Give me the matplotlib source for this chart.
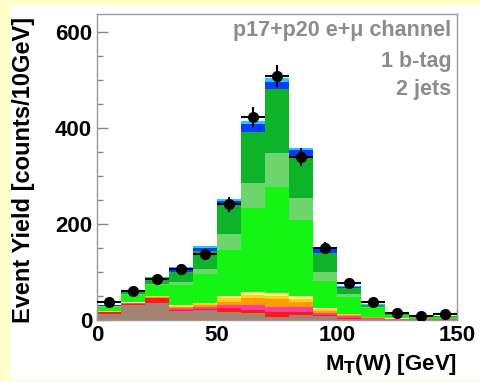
import numpy as np
import matplotlib
matplotlib.use("Agg")
import matplotlib.pyplot as plt
from matplotlib.patches import Rectangle

# Bin lower edges of M_T(W) in GeV (10 GeV bins)
bin_edges = [0, 10, 20, 30, 40, 50, 60, 70, 80, 90, 100, 110, 120, 130, 140]

# Stacked background/signal components, bottom to top (events per bin)
brown   = [13, 31, 36, 19, 20, 17, 14, 7, 10, 8, 3, 1.5, 0.5, 0.3, 0.2]
red     = [3, 3, 10, 2, 2, 7, 7, 10, 7, 2, 1, 0.5, 0.3, 0.2, 0.1]
magenta = [1, 0.5, 0.5, 5, 6, 7, 10, 11, 11, 5, 5, 3, 1.5, 1, 0.8]
orange  = [0.5, 0.5, 1.5, 1.5, 3, 7, 14, 15, 10, 4, 1, 0.5, 0.3, 0.2, 0.1]
yellow  = [1, 1, 1.5, 2, 3, 7, 7, 6, 6, 4, 2, 1, 0.5, 0.3, 0.2]
lyellow = [0.5, 0.5, 0.5, 1, 2, 4, 7, 7, 5, 2, 1, 0.5, 0.3, 0.2, 0.1]
lime    = [9, 16, 23, 42, 60, 97, 174, 220, 159, 57, 35, 19, 6, 5, 4]
lgreen  = [1, 2, 2, 7, 10, 32, 53, 71, 46, 17, 6, 2, 1, 0.8, 0.6]
dgreen  = [1, 3, 9, 21, 38, 62, 106, 134, 86, 40, 12, 3, 2, 1.5, 1.2]
blue    = [1, 1, 4, 5, 6, 8, 15, 15, 13, 8, 3, 1, 0.5, 0.3, 0.3]
cyan    = [1, 0.5, 2, 4, 4, 4, 8, 7, 6, 4, 2, 0.5, 0.3, 0.2, 0.2]

# Observed data per bin
data = [38, 61, 85, 107, 137, 241, 422, 508, 340, 150, 78, 37, 14, 8, 12]

components = [brown, red, magenta, orange, yellow, lyellow,
              lime, lgreen, dgreen, blue, cyan]
colors = ["#a38272", "#ff1a1a", "#ff3d9e", "#ff9d00", "#ffd21a", "#ffff80",
          "#14f514", "#6cd66c", "#0db42a", "#0a3cff", "#22c8ff"]

plt.rcParams["font.family"] = ["Liberation Sans", "DejaVu Sans"]
plt.rcParams["font.weight"] = "bold"

fig = plt.figure(figsize=(4.8, 3.82), dpi=100, facecolor="#ffffcc")
panel = Rectangle((10 / 480, 2 / 382), 1, 1 - 8 / 382,
                  transform=fig.transFigure, facecolor="white",
                  edgecolor="none", zorder=-10)
fig.add_artist(panel)

ax = fig.add_axes([97 / 480, 1 - 320 / 382, 360 / 480, 306 / 382])
ax.set_zorder(5)
ax.set_facecolor("white")

x = np.array(bin_edges, dtype=float)
bottom = np.zeros(len(x))
for comp, col in zip(components, colors):
    vals = np.array(comp, dtype=float)
    ax.bar(x, vals, width=10, bottom=bottom, align="edge", color=col,
           edgecolor="none", linewidth=0, zorder=2)
    bottom += vals

d = np.array(data, dtype=float)
ax.errorbar(x + 5, d, yerr=np.sqrt(d), xerr=5, fmt="o", color="black",
            markersize=7, elinewidth=1.5, capsize=0, zorder=5)

ax.set_xlim(0, 150)
ax.set_ylim(0, 637)
ax.set_xticks([0, 50, 100, 150])
ax.set_xticks(np.arange(0, 151, 10), minor=True)
ax.set_yticks([0, 200, 400, 600])
ax.set_yticks(np.arange(0, 637, 50), minor=True)
ax.tick_params(which="both", direction="in", color="#888888", top=False,
               right=False, labelsize=16)
ax.tick_params(which="major", length=8, width=1)
ax.tick_params(which="minor", length=4, width=1)
for lab in ax.get_xticklabels() + ax.get_yticklabels():
    lab.set_fontweight("bold")
for sp in ax.spines.values():
    sp.set_color("#999999")
    sp.set_linewidth(1)

ax.set_ylabel("Event Yield [counts/10GeV]", fontsize=17, fontweight="bold")
ax.yaxis.set_label_coords(-0.172, 0.49)
ax.set_xlabel(r"M$_\mathbf{T}$(W) [GeV]", fontsize=16, fontweight="bold")
ax.xaxis.set_label_coords(1.0, -0.105)
ax.xaxis.label.set_horizontalalignment("right")

txt_kw = dict(transform=ax.transAxes, ha="right", va="center",
              color="#8c8c8c", fontsize=15.5, fontweight="bold")
ax.text(0.985, 0.946, "p17+p20 e+\u03bc channel", **txt_kw)
ax.text(0.985, 0.845, "1 b-tag", **txt_kw)
ax.text(0.985, 0.752, "2 jets", **txt_kw)

fig.savefig("out.png", dpi=100, facecolor=fig.get_facecolor())
